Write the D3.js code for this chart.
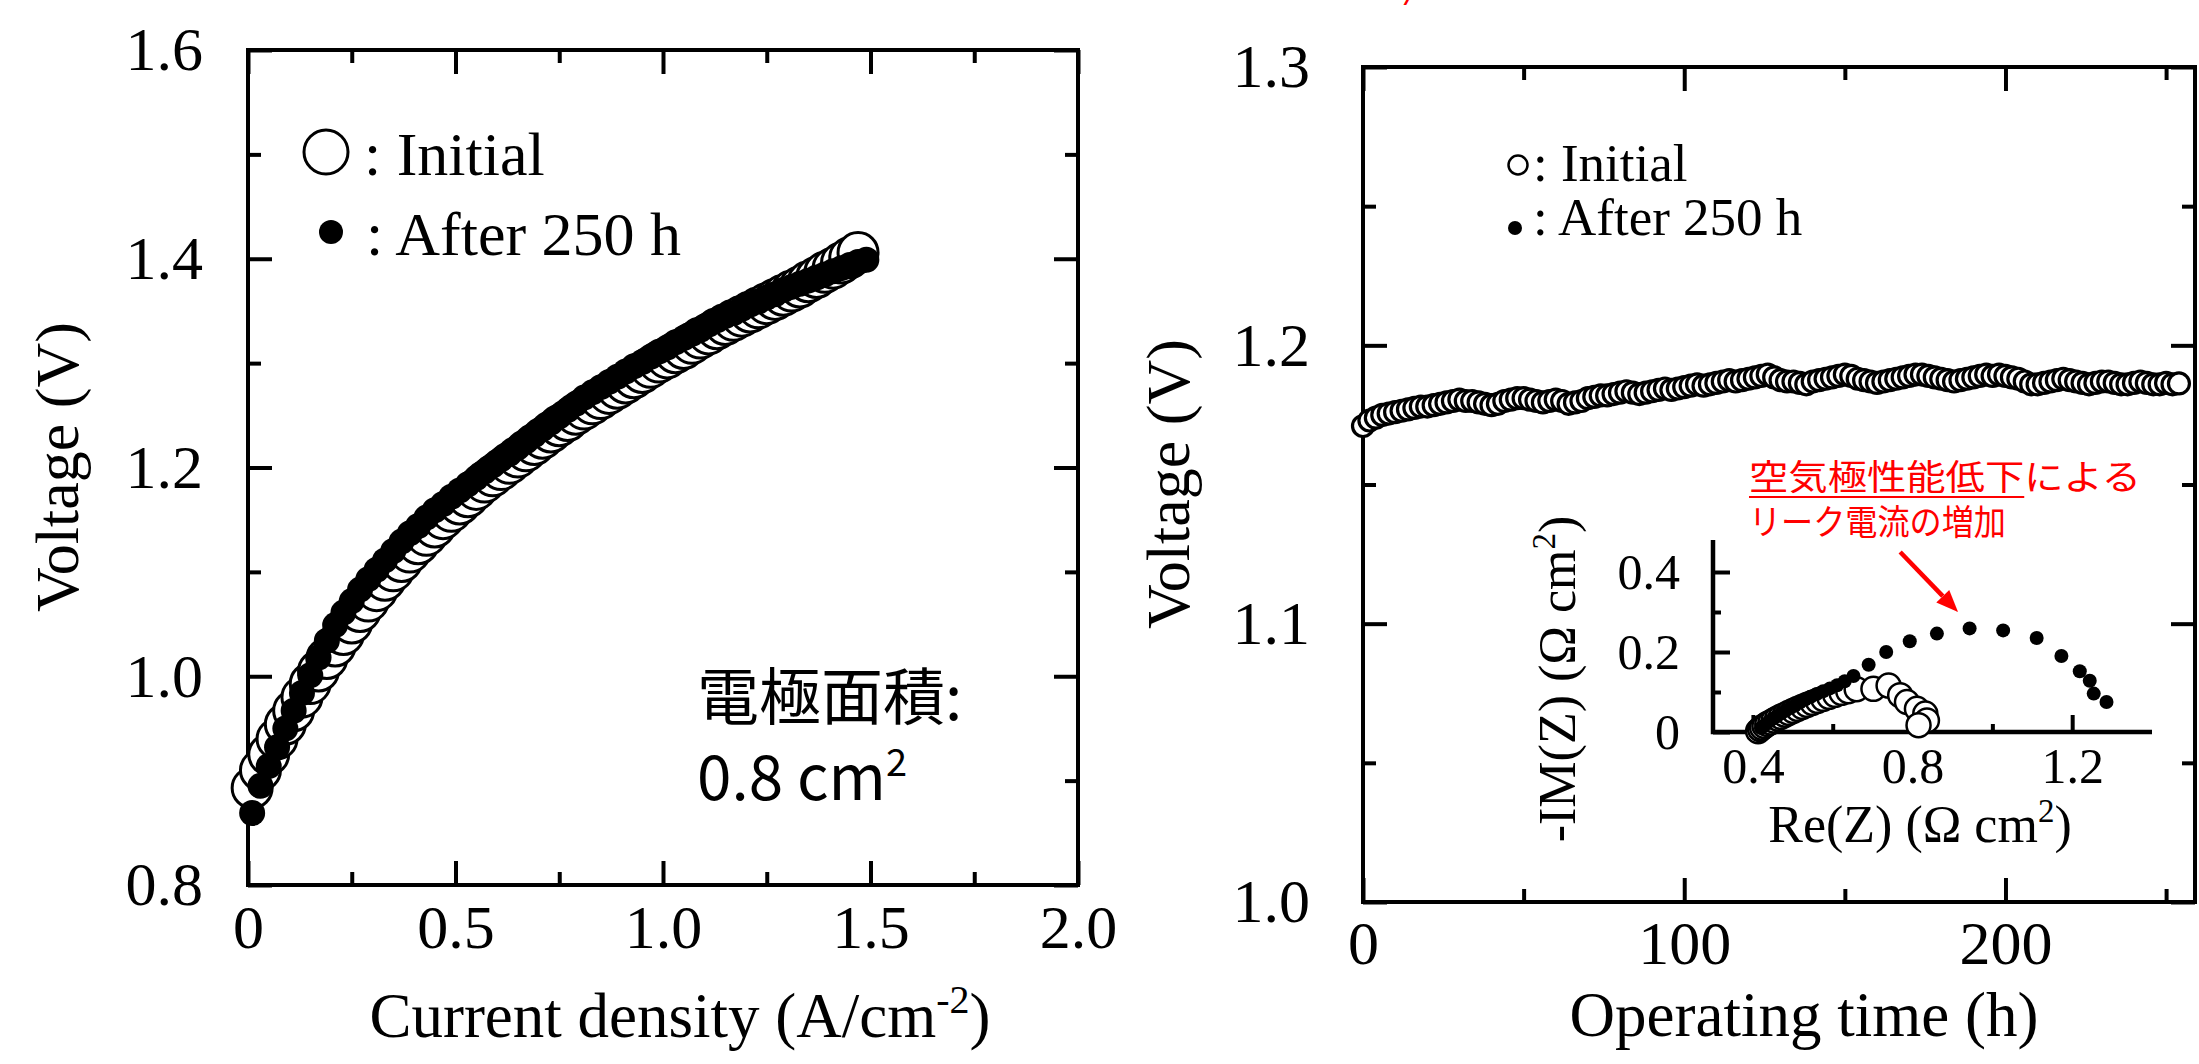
<!DOCTYPE html>
<meta charset="utf-8">
<style>
 body { margin: 0; background: #fff; }
 svg { display: block; }
 text { font-family: 'Liberation Serif', 'Times New Roman', serif; }
 .jp { font-family: 'Noto Sans CJK JP', sans-serif; }
</style>

<svg width="2199" height="1064"></svg>

<script src="https://d3js.org/d3.v7.min.js"></script>
<script>
 // ---- left panel: I-V curves
 var currentDensity = [
     0.01,0.03,0.05,0.07,0.09,0.11,0.13,0.15,0.17,0.19,
     0.21,0.23,0.25,0.27,0.29,0.31,0.33,0.35,0.37,0.39,
     0.41,0.43,0.45,0.47,0.49,0.51,0.53,0.55,0.57,0.59,
     0.61,0.63,0.65,0.67,0.69,0.71,0.73,0.75,0.77,0.79,
     0.81,0.83,0.85,0.87,0.89,0.91,0.93,0.95,0.97,0.99,
     1.01,1.03,1.05,1.07,1.09,1.11,1.13,1.15,1.17,1.19,
     1.21,1.23,1.25,1.27,1.29,1.31,1.33,1.35,1.37,1.39,
     1.41,1.43,1.45,1.47,1.49];
 var voltageInitial = [
     0.893,0.910,0.925,0.940,0.954,0.967,0.980,0.993,1.005,1.017,
     1.029,1.040,1.051,1.062,1.072,1.082,1.092,1.101,1.110,1.119,
     1.127,1.135,1.143,1.151,1.158,1.165,1.172,1.179,1.186,1.192,
     1.198,1.204,1.210,1.216,1.222,1.228,1.234,1.240,1.245,1.251,
     1.256,1.261,1.266,1.271,1.276,1.281,1.286,1.291,1.296,1.301,
     1.305,1.310,1.314,1.319,1.324,1.328,1.333,1.337,1.341,1.345,
     1.349,1.353,1.357,1.361,1.365,1.369,1.373,1.378,1.382,1.387,
     1.391,1.396,1.401,1.406,null];
 var voltageAfter = [
     0.869,0.895,0.914,0.932,0.950,0.967,0.984,1.001,1.018,1.034,
     1.049,1.061,1.072,1.083,1.093,1.102,1.111,1.120,1.129,1.137,
     1.144,1.152,1.159,1.165,1.172,1.178,1.184,1.190,1.196,1.202,
     1.208,1.213,1.219,1.225,1.231,1.237,1.243,1.249,1.255,1.261,
     1.267,1.272,1.277,1.282,1.287,1.292,1.297,1.301,1.306,1.311,
     1.315,1.320,1.324,1.328,1.332,1.337,1.341,1.345,1.348,1.352,
     1.356,1.359,1.363,1.366,1.370,1.373,1.376,1.379,1.382,1.385,
     1.388,1.391,1.394,1.397,1.399];
 var ivXTicks = [0, 0.5, 1.0, 1.5, 2.0];
 var ivXLabels = ['0', '0.5', '1.0', '1.5', '2.0'];
 var ivXMinor = [0.25, 0.75, 1.25, 1.75];
 var ivYTicks = [0.8, 1.0, 1.2, 1.4, 1.6];
 var ivYLabels = ['0.8', '1.0', '1.2', '1.4', '1.6'];
 var ivYMinor = [0.9, 1.1, 1.3, 1.5];

 // ---- right panel: durability test
 var operatingTime = [
     0,2,4,6,8,10,12,14,16,18,
     20,22,24,26,28,30,32,34,36,38,
     40,42,44,46,48,50,52,54,56,58,
     60,62,64,66,68,70,72,74,76,78,
     80,82,84,86,88,90,92,94,96,98,
     100,102,104,106,108,110,112,114,116,118,
     120,122,124,126,128,130,132,134,136,138,
     140,142,144,146,148,150,152,154,156,158,
     160,162,164,166,168,170,172,174,176,178,
     180,182,184,186,188,190,192,194,196,198,
     200,202,204,206,208,210,212,214,216,218,
     220,222,224,226,228,230,232,234,236,238,
     240,242,244,246,248,250,252,254];
 var voltageTime = [
     1.171,1.173,1.174,1.175,1.1755,1.176,1.1765,1.177,1.1775,1.178,
     1.178,1.1785,1.179,1.1795,1.180,1.1805,1.180,1.180,1.1795,1.179,
     1.1785,1.179,1.180,1.1805,1.181,1.181,1.1805,1.180,1.1795,1.180,
     1.1805,1.180,1.179,1.1795,1.180,1.181,1.1815,1.182,1.182,1.1825,
     1.183,1.1835,1.183,1.1825,1.183,1.1835,1.184,1.1845,1.184,1.1845,
     1.185,1.1855,1.186,1.1855,1.186,1.1865,1.187,1.1875,1.187,1.1875,
     1.188,1.1885,1.189,1.1895,1.1885,1.1875,1.187,1.187,1.1865,1.186,
     1.187,1.1875,1.188,1.1885,1.189,1.1895,1.189,1.188,1.1875,1.187,
     1.1865,1.187,1.1875,1.188,1.1885,1.189,1.1895,1.1895,1.189,1.1885,
     1.188,1.1875,1.187,1.1875,1.188,1.1885,1.189,1.1895,1.189,1.1895,
     1.189,1.1885,1.188,1.187,1.186,1.186,1.1865,1.187,1.1875,1.188,
     1.1875,1.187,1.1865,1.186,1.1865,1.187,1.187,1.1865,1.186,1.186,
     1.1865,1.187,1.1865,1.186,1.186,1.1865,1.186,1.1863];
 var timeXTicks = [0, 100, 200];
 var timeXLabels = ['0', '100', '200'];
 var timeXMinor = [50, 150, 250];
 var timeYTicks = [1.0, 1.1, 1.2, 1.3];
 var timeYLabels = ['1.0', '1.1', '1.2', '1.3'];
 var timeYMinor = [1.05, 1.15, 1.25];

 // ---- inset: impedance (Nyquist)
 var reInitial = [0.413,0.418,0.423,0.429,0.436,0.444,0.452,0.461,0.470,0.480,
                  0.490,0.501,0.512,0.524,0.536,0.549,0.562,0.576,0.591,0.606,
                  0.622,0.639,0.660,0.702,0.740,0.769,0.786,0.811,0.832,0.836,0.815];
 var imInitial = [0.002,0.007,0.011,0.015,0.020,0.024,0.029,0.034,0.038,0.043,
                  0.048,0.053,0.058,0.063,0.068,0.073,0.078,0.083,0.088,0.093,
                  0.098,0.102,0.107,0.108,0.116,0.092,0.075,0.058,0.046,0.029,0.017];
 var reAfter = [0.420,0.427,0.435,0.443,0.452,0.461,0.471,0.482,0.494,0.506,
                0.518,0.531,0.545,0.560,0.576,0.593,0.611,0.630,0.652,0.690,
                0.734,0.793,0.861,0.943,1.027,1.111,1.173,1.219,1.244,1.254,1.286];
 var imAfter = [0.010,0.015,0.022,0.028,0.034,0.040,0.047,0.053,0.060,0.067,
                0.074,0.081,0.088,0.095,0.102,0.109,0.117,0.127,0.140,0.168,
                0.200,0.227,0.246,0.259,0.254,0.235,0.190,0.152,0.128,0.096,0.075];
 var inXTicks = [0.4, 0.8, 1.2];
 var inXLabels = ['0.4', '0.8', '1.2'];
 var inXMinor = [0.6, 1.0];
 var inYTicks = [0, 0.2, 0.4];
 var inYLabels = ['0', '0.2', '0.4'];
 var inYMinor = [0.1, 0.3];

 var svg = d3.select('svg');
 svg.append('rect').attr('width', 2199).attr('height', 1064).attr('fill', '#fff');

 function styleAxis(g, fs) {
     g.attr('font-size', fs).attr('font-family', null);
     g.select('.domain').remove();
     g.selectAll('line').attr('stroke-width', 4);
 }

 // framed plot with inward ticks on all four sides
 function boxPlot(x, y, o) {
     var xr = x.range(), yr = y.range();
     var none = function() { return ''; };
     var g = svg.append('g');
     g.append('g').attr('transform', 'translate(0,' + yr[0] + ')')
      .call(d3.axisBottom(x).tickValues(o.xt).tickSize(-o.major).tickPadding(o.xpad)
            .tickFormat(function(d, i) { return o.xl[i]; }))
      .call(styleAxis, o.fs);
     g.append('g').attr('transform', 'translate(0,' + yr[0] + ')')
      .call(d3.axisBottom(x).tickValues(o.xm).tickSize(-o.minor).tickFormat(none)).call(styleAxis, o.fs);
     g.append('g').attr('transform', 'translate(0,' + yr[1] + ')')
      .call(d3.axisTop(x).tickValues(o.xt).tickSize(-o.major).tickFormat(none)).call(styleAxis, o.fs);
     g.append('g').attr('transform', 'translate(0,' + yr[1] + ')')
      .call(d3.axisTop(x).tickValues(o.xm).tickSize(-o.minor).tickFormat(none)).call(styleAxis, o.fs);
     g.append('g').attr('transform', 'translate(' + xr[0] + ',0)')
      .call(d3.axisLeft(y).tickValues(o.yt).tickSize(-o.major).tickPadding(o.ypad)
            .tickFormat(function(d, i) { return o.yl[i]; }))
      .call(styleAxis, o.fs);
     g.append('g').attr('transform', 'translate(' + xr[0] + ',0)')
      .call(d3.axisLeft(y).tickValues(o.ym).tickSize(-o.minor).tickFormat(none)).call(styleAxis, o.fs);
     g.append('g').attr('transform', 'translate(' + xr[1] + ',0)')
      .call(d3.axisRight(y).tickValues(o.yt).tickSize(-o.major).tickFormat(none)).call(styleAxis, o.fs);
     g.append('g').attr('transform', 'translate(' + xr[1] + ',0)')
      .call(d3.axisRight(y).tickValues(o.ym).tickSize(-o.minor).tickFormat(none)).call(styleAxis, o.fs);
     g.append('rect')
      .attr('x', xr[0]).attr('y', yr[1])
      .attr('width', xr[1] - xr[0]).attr('height', yr[0] - yr[1])
      .attr('fill', 'none').attr('stroke', '#000').attr('stroke-width', 4);
     return g;
 }

 // ================= left panel
 var xL = d3.scaleLinear().domain([0, 2]).range([248, 1078]);
 var yL = d3.scaleLinear().domain([0.8, 1.6]).range([885, 50]);
 boxPlot(xL, yL, { xt: ivXTicks, xl: ivXLabels, xm: ivXMinor, yt: ivYTicks, yl: ivYLabels, ym: ivYMinor,
                   major: 24, minor: 13, xpad: 19, ypad: 45, fs: 62 });

 var ivInit = currentDensity.map(function(j, i) { return [j, voltageInitial[i]]; })
                            .filter(function(d) { return d[1] != null; });
 var ivAfter = currentDensity.map(function(j, i) { return [j, voltageAfter[i]]; });

 svg.append('g').selectAll('circle').data(ivInit).join('circle')
    .attr('cx', function(d) { return xL(d[0]); })
    .attr('cy', function(d) { return yL(d[1]); })
    .attr('r', 20).attr('fill', '#fff').attr('stroke', '#000').attr('stroke-width', 3);
 svg.append('g').selectAll('circle').data(ivAfter).join('circle')
    .attr('cx', function(d) { return xL(d[0]); })
    .attr('cy', function(d) { return yL(d[1]); })
    .attr('r', 13).attr('fill', '#000');

 // legend
 svg.append('circle').attr('cx', 326).attr('cy', 152).attr('r', 22)
    .attr('fill', '#fff').attr('stroke', '#000').attr('stroke-width', 3);
 svg.append('text').attr('x', 364).attr('y', 175).attr('font-size', 62).text(': Initial');
 svg.append('circle').attr('cx', 331).attr('cy', 232).attr('r', 12).attr('fill', '#000');
 svg.append('text').attr('x', 366).attr('y', 255).attr('font-size', 62).text(': After 250 h');

 svg.append('text').attr('class', 'jp').attr('x', 697).attr('y', 720).attr('font-size', 62).text('電極面積:');
 var area = svg.append('text').attr('class', 'jp').attr('x', 697).attr('y', 800).attr('font-size', 62);
 area.append('tspan').text('0.8 cm');
 area.append('tspan').attr('font-size', 38).attr('dy', -24).text('2');

 var xt = svg.append('text').attr('x', 680).attr('y', 1037).attr('font-size', 63)
             .attr('text-anchor', 'middle');
 xt.append('tspan').text('Current density (A/cm');
 xt.append('tspan').attr('font-size', 40).attr('dy', -24).text('-2');
 xt.append('tspan').attr('dy', 24).text(')');

 svg.append('text').attr('transform', 'translate(78,467) rotate(-90)')
    .attr('font-size', 62).attr('text-anchor', 'middle').text('Voltage (V)');

 // ================= right panel
 var xR = d3.scaleLinear().domain([0, 259]).range([1363, 2195]);
 var yR = d3.scaleLinear().domain([1.0, 1.3]).range([902, 67]);
 boxPlot(xR, yR, { xt: timeXTicks, xl: timeXLabels, xm: timeXMinor, yt: timeYTicks, yl: timeYLabels, ym: timeYMinor,
                   major: 24, minor: 13, xpad: 18, ypad: 53, fs: 62 });

 svg.append('g').selectAll('circle').data(operatingTime).join('circle')
    .attr('cx', function(d) { return xR(d); })
    .attr('cy', function(d, i) { return yR(voltageTime[i]); })
    .attr('r', 10.5).attr('fill', '#fff').attr('stroke', '#000').attr('stroke-width', 3.2);

 svg.append('circle').attr('cx', 1518).attr('cy', 165).attr('r', 9.5)
    .attr('fill', '#fff').attr('stroke', '#000').attr('stroke-width', 2.5);
 svg.append('text').attr('x', 1533).attr('y', 181).attr('font-size', 53).text(': Initial');
 svg.append('circle').attr('cx', 1515).attr('cy', 228).attr('r', 7).attr('fill', '#000');
 svg.append('text').attr('x', 1533).attr('y', 235).attr('font-size', 53).text(': After 250 h');

 svg.append('text').attr('x', 1804).attr('y', 1036).attr('font-size', 63)
    .attr('text-anchor', 'middle').text('Operating time (h)');
 svg.append('text').attr('transform', 'translate(1189,484) rotate(-90)')
    .attr('font-size', 62).attr('text-anchor', 'middle').text('Voltage (V)');

 // ================= inset
 var xI = d3.scaleLinear().domain([0.3, 1.4]).range([1713, 2152]);
 var yI = d3.scaleLinear().domain([0, 0.48]).range([732, 540]);
 var inset = svg.append('g');
 inset.append('g').attr('transform', 'translate(0,732)')
      .call(d3.axisBottom(xI).tickValues(inXTicks).tickSize(-17).tickPadding(15)
            .tickFormat(function(d, i) { return inXLabels[i]; }))
      .call(styleAxis, 50);
 inset.append('g').attr('transform', 'translate(0,732)')
      .call(d3.axisBottom(xI).tickValues(inXMinor).tickSize(-8).tickFormat(function() { return ''; }))
      .call(styleAxis, 50);
 inset.append('g').attr('transform', 'translate(1713,0)')
      .call(d3.axisLeft(yI).tickValues(inYTicks).tickSize(-17).tickPadding(33)
            .tickFormat(function(d, i) { return inYLabels[i]; }))
      .call(styleAxis, 50);
 inset.append('g').attr('transform', 'translate(1713,0)')
      .call(d3.axisLeft(yI).tickValues(inYMinor).tickSize(-8).tickFormat(function() { return ''; }))
      .call(styleAxis, 50);
 inset.append('path')
      .attr('d', 'M' + xI(0.3) + ',' + yI(0.48) + 'V' + yI(0) + 'H' + xI(1.4))
      .attr('fill', 'none').attr('stroke', '#000').attr('stroke-width', 4.5);

 inset.append('g').selectAll('circle').data(reInitial).join('circle')
      .attr('cx', function(d) { return xI(d); })
      .attr('cy', function(d, i) { return yI(imInitial[i]); })
      .attr('r', 12).attr('fill', '#fff').attr('stroke', '#000').attr('stroke-width', 2.5);
 inset.append('g').selectAll('circle').data(reAfter).join('circle')
      .attr('cx', function(d) { return xI(d); })
      .attr('cy', function(d, i) { return yI(imAfter[i]); })
      .attr('r', 7).attr('fill', '#000');

 var lx = inset.append('text').attr('x', 1920).attr('y', 842).attr('font-size', 52)
               .attr('text-anchor', 'middle');
 lx.append('tspan').text('Re(Z) (Ω cm');
 lx.append('tspan').attr('font-size', 33).attr('dy', -20).text('2');
 lx.append('tspan').attr('dy', 20).text(')');
 var ly = inset.append('text').attr('transform', 'translate(1575,679) rotate(-90)')
               .attr('font-size', 52).attr('text-anchor', 'middle');
 ly.append('tspan').text('-IM(Z) (Ω cm');
 ly.append('tspan').attr('font-size', 33).attr('dy', -20).text('2');
 ly.append('tspan').attr('dy', 20).text(')');

 // red annotation
 var red = '#ff0000';
 var note1 = svg.append('text').attr('class', 'jp').attr('x', 1749).attr('y', 490)
                .attr('font-size', 35).attr('fill', red)
                .attr('textLength', 392).attr('lengthAdjust', 'spacingAndGlyphs')
                .text('空気極性能低下による');
 svg.append('text').attr('class', 'jp').attr('x', 1749).attr('y', 535)
    .attr('font-size', 35).attr('fill', red)
    .attr('textLength', 257).attr('lengthAdjust', 'spacingAndGlyphs')
    .text('リーク電流の増加');
 var ulEnd = note1.node().getEndPositionOfChar(6).x;
 svg.append('line').attr('x1', 1749).attr('x2', ulEnd).attr('y1', 497).attr('y2', 497)
    .attr('stroke', red).attr('stroke-width', 2);

 var aFrom = [xI(0.769), yI(0.45)], aTo = [xI(0.914), yI(0.30)];
 var ang = Math.atan2(aTo[1] - aFrom[1], aTo[0] - aFrom[0]);
 var hl = 22, hw = 9;
 var base = [aTo[0] - hl * Math.cos(ang), aTo[1] - hl * Math.sin(ang)];
 svg.append('line').attr('x1', aFrom[0]).attr('y1', aFrom[1]).attr('x2', base[0]).attr('y2', base[1])
    .attr('stroke', red).attr('stroke-width', 4.5);
 svg.append('path')
    .attr('d', 'M' + aTo[0] + ',' + aTo[1] +
               'L' + (base[0] + hw * Math.sin(ang)) + ',' + (base[1] - hw * Math.cos(ang)) +
               'L' + (base[0] - hw * Math.sin(ang)) + ',' + (base[1] + hw * Math.cos(ang)) + 'Z')
    .attr('fill', red);

 // clipped red fragment of a title above the figure
 svg.append('text').attr('x', 1406).attr('y', 5).attr('font-size', 40)
    .attr('font-style', 'italic').attr('font-weight', 'bold').attr('fill', red).text('/');
</script>
